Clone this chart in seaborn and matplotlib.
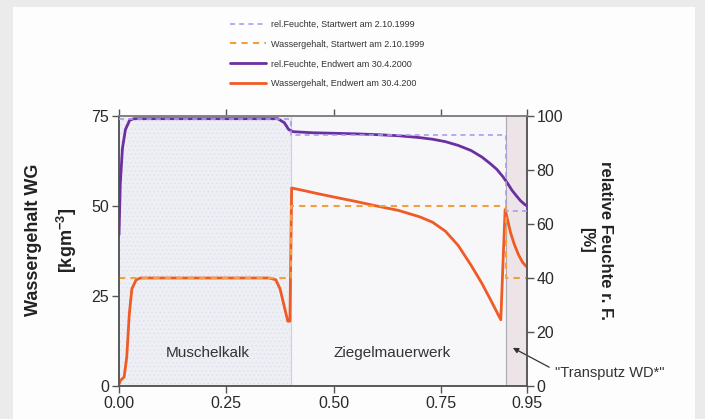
import matplotlib
matplotlib.use("Agg")
import matplotlib.pyplot as plt
from matplotlib.patches import Rectangle
import seaborn as sns

# Schichtgrenzen / Startwerte am 2.10.1999
seg_x = [0.0, 0.40, 0.40, 0.90, 0.90, 0.95]
rf_start = [99, 99, 93, 93, 65, 65]
wg_start = [30, 30, 50, 50, 30, 30]

# Endwerte am 30.4.2000
wg_end_x = [0.000, 0.003, 0.012, 0.018, 0.024, 0.030, 0.040, 0.050, 0.350, 0.365,
            0.375, 0.385, 0.393, 0.398, 0.402, 0.430, 0.460, 0.500, 0.550, 0.600,
            0.650, 0.700, 0.730, 0.760, 0.790, 0.820, 0.845, 0.865, 0.880, 0.889,
            0.899, 0.905, 0.912, 0.920, 0.930, 0.940, 0.950]
wg_end = [0.5, 1.5, 2.5, 8, 20, 27, 29.5, 30, 30, 29.5,
          27, 22, 18, 18, 55, 54.3, 53.5, 52.5, 51.3, 50,
          48.8, 47, 45.5, 43, 39, 33.5, 28.5, 24, 20.5, 18.4,
          49, 46, 42.5, 39.5, 36.5, 34.3, 33]

rf_end_x = [0.000, 0.003, 0.008, 0.015, 0.025, 0.035, 0.370, 0.385, 0.395, 0.405,
            0.450, 0.500, 0.550, 0.600, 0.650, 0.700, 0.730, 0.760, 0.790, 0.820,
            0.845, 0.865, 0.880, 0.894, 0.905, 0.915, 0.925, 0.935, 0.945, 0.950]
rf_end = [56, 75, 88, 95, 98.5, 99, 99, 97.5, 95, 94.2,
          93.8, 93.6, 93.4, 93.1, 92.7, 92, 91.4, 90.5, 89.1, 87.2,
          84.8, 82.3, 80.2, 77.5, 75, 72.5, 70.5, 68.6, 67.2, 66.7]

x_ticks = [0.0, 0.25, 0.50, 0.75, 0.95]
x_ticklabels = ["0.00", "0.25", "0.50", "0.75", "0.95"]
wg_ticks = [0, 25, 50, 75]
rf_ticks = [0, 20, 40, 60, 80, 100]

sns.set_style("ticks")
plt.rcParams["font.family"] = ["Liberation Sans", "DejaVu Sans"]
plt.rcParams["mathtext.fontset"] = "custom"
plt.rcParams["mathtext.bf"] = "Liberation Sans:bold"
plt.rcParams["mathtext.rm"] = "Liberation Sans:bold"
plt.rcParams["hatch.linewidth"] = 0.4

fig = plt.figure(figsize=(7.05, 4.19), dpi=100)
fig.patch.set_facecolor("#ebebeb")
fig.add_artist(Rectangle((13 / 705, 0), 682 / 705, 1 - 7 / 419, transform=fig.transFigure,
                         facecolor="#fdfdfd", edgecolor="none", zorder=-10))

ax = fig.add_axes([119 / 705, 33 / 419, 408 / 705, 270 / 419])
ax.set_facecolor("#f7f7fa")
ax2 = ax.twinx()

# Schichten
ax.axvspan(0, 0.40, facecolor="#eeeef5", edgecolor="#dedee9", hatch="....", lw=0, zorder=0)
ax.axvspan(0.90, 0.95, facecolor="#ece4e7", edgecolor="none", lw=0, zorder=0)
ax.axvline(0.40, color="#cfcfd8", lw=0.8, zorder=1)
ax.axvline(0.90, color="#a9a9b2", lw=0.8, zorder=1)

orange = "#f05a24"
orange_d = "#f0a040"
purple = "#6b2fa0"
purple_d = "#a99cf0"

sns.lineplot(x=wg_end_x, y=wg_end, ax=ax, color=orange, lw=2, sort=False,
             estimator=None, legend=False, zorder=3)
sns.lineplot(x=seg_x, y=wg_start, ax=ax, color=orange_d, lw=1.5, ls=(0, (3, 2.5)),
             sort=False, estimator=None, legend=False, zorder=4)
sns.lineplot(x=rf_end_x, y=rf_end, ax=ax2, color=purple, lw=2, sort=False,
             estimator=None, legend=False, zorder=3)
sns.lineplot(x=seg_x, y=rf_start, ax=ax2, color=purple_d, lw=1.2, ls=(0, (3, 2.5)),
             sort=False, estimator=None, legend=False, zorder=4)

ax.set_xlim(0, 0.95)
ax.set_ylim(0, 75)
ax2.set_ylim(0, 100)
ax.set_xticks(x_ticks)
ax.set_xticklabels(x_ticklabels)
ax.set_yticks(wg_ticks)
ax2.set_yticks(rf_ticks)
ax.set_xlabel("")
ax.set_ylabel("")
ax2.set_ylabel("")

for a in (ax, ax2):
    for s in a.spines.values():
        s.set_color("#555555")
        s.set_linewidth(1.1)
    a.tick_params(direction="out", length=5, width=1, colors="#555555",
                  labelcolor="#2a2a2a", labelsize=11.5, pad=2)
ax.tick_params(axis="x", top=True)
ax2.spines["top"].set_color("#888888")

ax.text(0.207, 9.2, "Muschelkalk", ha="center", va="center", fontsize=11, color="#333333")
ax.text(0.635, 9.2, "Ziegelmauerwerk", ha="center", va="center", fontsize=11, color="#333333")
ax.annotate('"Transputz WD*"', xy=(0.917, 10.6), xytext=(1.015, 3.6), textcoords="data",
            ha="left", va="center", fontsize=10.5, color="#333333", annotation_clip=False,
            arrowprops=dict(arrowstyle="-|>", color="#333333", lw=0.9, mutation_scale=8,
                            shrinkA=2, shrinkB=0, relpos=(0, 0.7)))

fig.text(52 / 705, 1 - 240 / 419, "Wassergehalt WG\n[kgm$^{\\mathbf{-3}}$]", rotation=90,
         ha="center", va="center", fontsize=13, fontweight="bold", linespacing=1.7,
         color="#222222")
fig.text(596 / 705, 1 - 240 / 419, "relative Feuchte r. F.\n[%]", rotation=-90,
         ha="center", va="center", fontsize=12, fontweight="bold", linespacing=1.35,
         color="#222222")

handles = [ax2.get_lines()[1], ax.get_lines()[-1], ax2.get_lines()[0], ax.get_lines()[-2]]
labels = ["rel.Feuchte, Startwert am 2.10.1999",
          "Wassergehalt, Startwert am 2.10.1999",
          "rel.Feuchte, Endwert am 30.4.2000",
          "Wassergehalt, Endwert am 30.4.200"]
leg = fig.legend(handles, labels, loc="center", bbox_to_anchor=(0.464, 0.871), frameon=False,
                 fontsize=6.5, handlelength=4, labelspacing=1.2, handletextpad=0.6)
for t in leg.get_texts():
    t.set_color("#333333")

fig.savefig("out.png", dpi=100, facecolor=fig.get_facecolor())
